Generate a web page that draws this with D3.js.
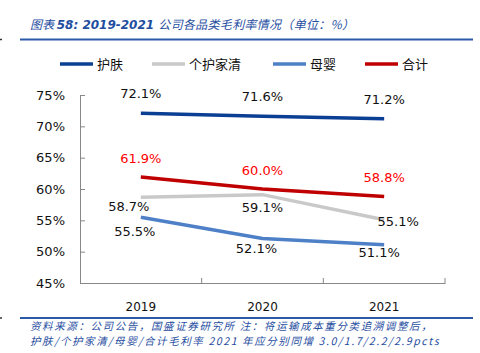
<!DOCTYPE html>
<html>
<head>
<meta charset="utf-8">
<script src="https://cdn.jsdelivr.net/npm/d3@7"></script>
<style>
  html, body { margin: 0; padding: 0; background: #fff; }
  svg { display: block; }
</style>
</head>
<body>
<div id="chart"></div>
<script>
var years = ['2019', '2020', '2021'];
var seriesNames = ['护肤', '个护家清', '母婴', '合计'];
var skinCare = [72.1, 71.6, 71.2];
var homeCare = [58.7, 59.1, 55.1];
var babyCare = [55.5, 52.1, 51.1];
var total = [61.9, 60.0, 58.8];
var yTicks = [45, 50, 55, 60, 65, 70, 75];

var colors = ['#0b3f93', '#c9c9c9', '#4d80c6', '#c00000'];
var labelColors = ['#111', '#111', '#111', '#ff0000'];
// label offsets from the point (dx, dy of the text centre)
var labelOffsets = [
  [[0, -19.5], [0, -20], [0, -19.5]],
  [[-12, 9.5], [0, 13], [14, 2]],
  [[-6, 14.5], [-6, 9.5], [-5, 7.3]],
  [[0, -19], [0, -19], [0, -19.5]]
];

var W = 480, H = 353;
var svg = d3.select('#chart').append('svg').attr('width', W).attr('height', H);
var blue = '#1f4e9f';
var cjk = '"Noto Sans CJK SC", "DejaVu Sans", sans-serif';
var num = '"DejaVu Sans", Verdana, sans-serif';

// title
var title = svg.append('text').attr('x', 30).attr('y', 29)
  .attr('fill', blue).attr('font-size', 12).attr('font-style', 'italic')
  .attr('font-family', cjk);
title.append('tspan').text('图表 ');
title.append('tspan').attr('font-weight', 'bold').attr('font-family', num).text('58:  2019-2021 ');
title.append('tspan').attr('letter-spacing', 0.3).text('公司各品类毛利率情况（单位：%）');

svg.append('line').attr('x1', 20).attr('x2', 473).attr('y1', 39.5).attr('y2', 39.5)
  .attr('stroke', '#2a5aa8').attr('stroke-width', 2);
svg.append('line').attr('x1', 0).attr('x2', 2).attr('y1', 39.5).attr('y2', 39.5)
  .attr('stroke', '#333').attr('stroke-width', 1.5);

// legend
var legX = [60, 152, 273, 365];
var leg = svg.append('g');
seriesNames.forEach(function (n, i) {
  leg.append('line').attr('x1', legX[i]).attr('x2', legX[i] + 33)
    .attr('y1', 64).attr('y2', 64).attr('stroke', colors[i]).attr('stroke-width', 3.5);
  leg.append('text').attr('x', legX[i] + 37).attr('y', 64).attr('dy', '0.36em')
    .attr('font-size', 13).attr('font-family', cjk).attr('fill', '#111').text(n);
});

// scales
var x = d3.scaleBand().domain(years).range([80, 445]);
var y = d3.scaleLinear().domain([45, 75]).range([283, 95]);
var cx = function (d) { return x(d) + x.bandwidth() / 2; };

// y axis
var ay = svg.append('g').attr('transform', 'translate(80,0)')
  .call(d3.axisLeft(y).tickValues(yTicks).tickSize(-5).tickPadding(15)
    .tickFormat(function (d) { return d + '%'; }));
ay.select('.domain').attr('stroke', '#888');
ay.selectAll('line').attr('stroke', '#888');
ay.selectAll('text').attr('font-size', 13).attr('font-family', num).attr('fill', '#111');

// x axis
var ax = svg.append('g').attr('transform', 'translate(0,283)')
  .call(d3.axisBottom(x).tickSize(0).tickPadding(19));
ax.select('.domain').attr('stroke', '#888');
ax.selectAll('text').attr('font-size', 12).attr('font-family', num).attr('fill', '#111');
ax.selectAll('.bt').data(years).enter().append('line')
  .attr('x1', function (d) { return x(d) + x.bandwidth(); })
  .attr('x2', function (d) { return x(d) + x.bandwidth(); })
  .attr('y1', 0).attr('y2', -5).attr('stroke', '#888');

// lines
var allSeries = [skinCare, homeCare, babyCare, total];
var line = d3.line().x(function (d, i) { return cx(years[i]); }).y(function (d) { return y(d); });
var drawOrder = [1, 2, 0, 3];
drawOrder.forEach(function (s) {
  svg.append('path').datum(allSeries[s]).attr('d', line)
    .attr('fill', 'none').attr('stroke', colors[s]).attr('stroke-width', 3.5);
});

// labels
allSeries.forEach(function (vals, s) {
  svg.append('g').selectAll('text').data(vals).enter().append('text')
    .attr('x', function (d, i) { return cx(years[i]) + labelOffsets[s][i][0]; })
    .attr('y', function (d, i) { return y(d) + labelOffsets[s][i][1]; })
    .attr('dy', '0.36em').attr('text-anchor', 'middle')
    .attr('font-size', 13).attr('font-family', num).attr('fill', labelColors[s])
    .text(function (d) { return d.toFixed(1) + '%'; });
});

// footer
svg.append('line').attr('x1', 20).attr('x2', 473).attr('y1', 318).attr('y2', 318)
  .attr('stroke', '#2a5aa8').attr('stroke-width', 2);
svg.append('line').attr('x1', 0).attr('x2', 2).attr('y1', 318).attr('y2', 318)
  .attr('stroke', '#333').attr('stroke-width', 1.5);
var foot = ['资料来源：公司公告，国盛证券研究所 注：将运输成本重分类追溯调整后，',
  '护肤/个护家清/母婴/合计毛利率 2021 年应分别同增 3.0/1.7/2.2/2.9pcts'];
foot.forEach(function (t, i) {
  svg.append('text').attr('x', 30).attr('y', 326 + i * 15.5).attr('dy', '0.36em')
    .attr('font-size', 10.5).attr('letter-spacing', 1.6).attr('font-style', 'italic')
    .attr('font-family', cjk).attr('fill', blue).text(t);
});
</script>
</body>
</html>
